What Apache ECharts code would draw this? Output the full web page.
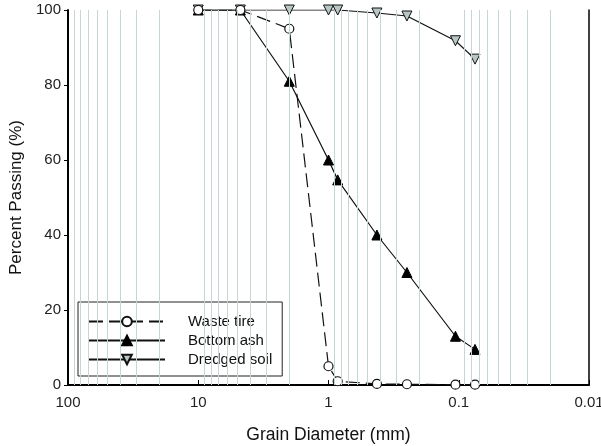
<!DOCTYPE html>
<html><head><meta charset="utf-8">
<script src="https://cdn.jsdelivr.net/npm/echarts@6/dist/echarts.min.js"></script>
<style>html,body{margin:0;padding:0;background:#fff}#c{width:601px;height:446px}</style>
</head><body><div id="c"></div>
<script>
const sizes = [10, 4.75, 2, 1.0, 0.85, 0.425, 0.25, 0.106, 0.075];
const wasteTire = [100, 100, 95, 5, 1, 0.3, 0.2, 0.1, 0.1];
const bottomAsh = [100, 100, 81, 60, 54.7, 40, 30, 13, 9.5];
const dredgedSoil = [100, 100, 100, 100, 100, 99.2, 98.4, 91.8, 86.9];
const xTicks = [100, 10, 1, 0.1, 0.01];
const yTicks = [0, 20, 40, 60, 80, 100];

const pairs = a => sizes.map((s, i) => [s, a[i]]);
const gridX = [];
[10, 1, 0.1, 0.01].forEach(d => { for (let k = 2; k <= 9; k++) gridX.push(+(d * k).toPrecision(3)); });

const font = 'Liberation Sans, Arial, sans-serif';
const chart = echarts.init(document.getElementById('c'));
const xBase = {type: 'log', logBase: 10, min: 0.01, max: 100, inverse: true};
chart.setOption({
  animation: false,
  grid: {left: 68, right: 12, top: 10, bottom: 61, containLabel: false, outerBoundsMode: 'none'},
  xAxis: [
    Object.assign({}, xBase, {
      position: 'bottom',
      name: 'Grain Diameter (mm)', nameLocation: 'middle', nameGap: 41,
      nameTextStyle: {fontFamily: font, fontSize: 17.5, color: '#111'},
      axisLine: {lineStyle: {color: '#000', width: 2}},
      axisTick: {show: true, inside: true, length: 5, lineStyle: {color: '#000'}},
      axisLabel: {fontFamily: font, fontSize: 15, color: '#222', margin: 10,
        formatter: v => String(xTicks.find(t => Math.abs(Math.log10(t) - Math.log10(v)) < 1e-6) ?? v)},
      splitLine: {show: false}
    }),
    Object.assign({}, xBase, {
      position: 'top',
      axisLine: {lineStyle: {color: '#000', width: 1.5}},
      axisTick: {show: false}, axisLabel: {show: false}, splitLine: {show: false}
    })
  ],
  yAxis: [
    {type: 'value', min: 0, max: 100, interval: 20, position: 'left',
      name: 'Percent Passing (%)', nameLocation: 'middle', nameGap: 43,
      nameTextStyle: {fontFamily: font, fontSize: 17, color: '#111'},
      axisLine: {show: true, lineStyle: {color: '#000', width: 2}},
      axisTick: {show: true, length: 4, lineStyle: {color: '#000'}},
      axisLabel: {fontFamily: font, fontSize: 15, color: '#222', margin: 7,
        formatter: v => String(yTicks.find(t => t === v) ?? v)},
      splitLine: {show: false}},
    {type: 'value', min: 0, max: 100, interval: 20, position: 'right',
      axisLine: {show: true, lineStyle: {color: '#000', width: 1.5}},
      axisTick: {show: false}, axisLabel: {show: false}, splitLine: {show: false}}
  ],
  legend: {
    orient: 'vertical', left: 78, top: 302,
    padding: [12, 10, 9, 10],
    itemWidth: 76, itemHeight: 12, itemGap: 4,
    borderColor: '#222', borderWidth: 1, borderRadius: 0, backgroundColor: '#fff',
    textStyle: {fontFamily: font, fontSize: 15, color: '#111', padding: [0, 0, 0, 18]},
    data: ['Waste tire', 'Bottom ash', 'Dredged soil']
  },
  series: [
    {name: 'grid', type: 'line', data: [], silent: true,
      markLine: {silent: true, symbol: 'none', label: {show: false},
        lineStyle: {color: '#c6d6d6', width: 1, type: 'solid'},
        data: gridX.map(v => ({xAxis: v}))}},
    {name: 'Waste tire', type: 'line', data: pairs(wasteTire), z: 4,
      symbol: 'circle', symbolSize: 9,
      lineStyle: {color: '#111', width: 1.2, type: [14, 6]},
      itemStyle: {color: '#fff', borderColor: '#111', borderWidth: 1.2}},
    {name: 'Bottom ash', type: 'line', data: pairs(bottomAsh), z: 3,
      symbol: 'triangle', symbolSize: 10,
      lineStyle: {color: '#111', width: 1.2},
      itemStyle: {color: '#000', borderColor: '#000', borderWidth: 1}},
    {name: 'Dredged soil', type: 'line', data: pairs(dredgedSoil), z: 2,
      symbol: 'triangle', symbolSize: 10, symbolRotate: 180,
      lineStyle: {color: '#111', width: 1.2},
      itemStyle: {color: '#b9c6c6', borderColor: '#111', borderWidth: 1}}
  ]
});
</script></body></html>
